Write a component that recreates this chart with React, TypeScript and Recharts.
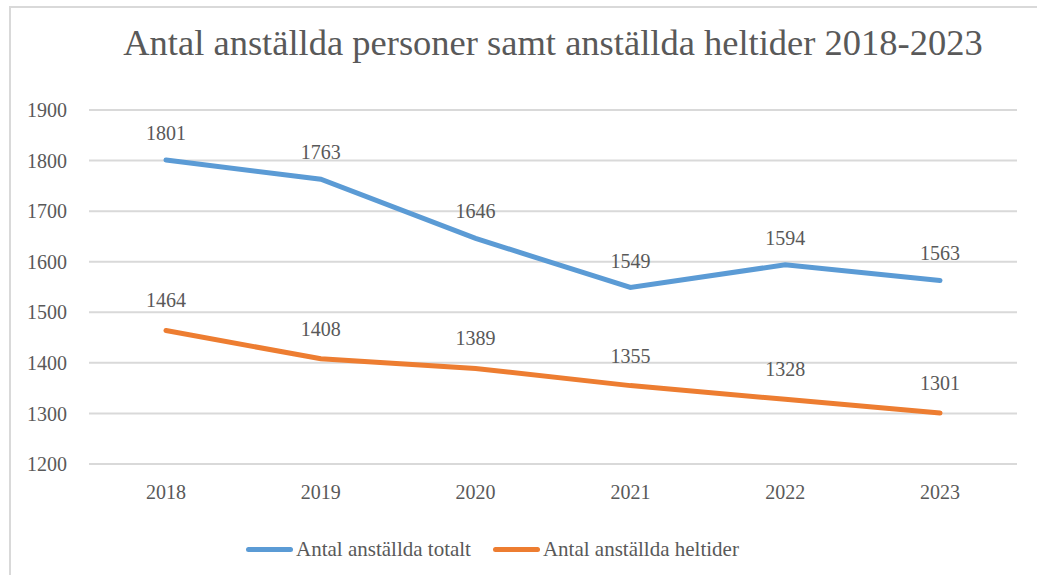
import React from "react";
import { LineChart, Line, XAxis, YAxis, CartesianGrid, Legend, LabelList } from "recharts";

const years = ["2018", "2019", "2020", "2021", "2022", "2023"];
const totalt = [1801, 1763, 1646, 1549, 1594, 1563];
const heltider = [1464, 1408, 1389, 1355, 1328, 1301];
const yTicks = [1200, 1300, 1400, 1500, 1600, 1700, 1800, 1900];

const data = years.map((y, i) => ({ year: y, totalt: totalt[i], heltider: heltider[i] }));

const FONT = "Liberation Serif";
const TXT = "#595959";
const BLUE = "#5B9BD5";
const ORANGE = "#ED7D31";

const txtStyle: React.CSSProperties = { fontFamily: FONT, fontSize: 21, color: TXT };

const LegendContent = () => (
  <div style={{ height: 71, position: "relative" }}>
    <div style={{ position: "absolute", top: 33, left: 246, display: "flex", alignItems: "center", whiteSpace: "nowrap" }}>
      <span style={{ display: "inline-block", width: 47, height: 5, borderRadius: 3, background: BLUE, marginRight: 3 }} />
      <span style={txtStyle}>Antal anställda totalt</span>
      <span style={{ display: "inline-block", width: 47, height: 5, borderRadius: 3, background: ORANGE, marginLeft: 22, marginRight: 3 }} />
      <span style={txtStyle}>Antal anställda heltider</span>
    </div>
  </div>
);

export default function App() {
  return (
    <div style={{ position: "fixed", left: 0, top: 0, width: 1037, height: 575, overflow: "hidden", background: "#fff" }}>
      <div style={{ position: "absolute", left: 9, top: 6, width: 1200, height: 700, border: "2px solid #d9d9d9", boxSizing: "border-box" }} />
      <div style={{ position: "absolute", left: 89, width: 928, top: 21, textAlign: "center", fontFamily: FONT, fontSize: 36.5, color: TXT, whiteSpace: "nowrap" }}>
        Antal anställda personer samt anställda heltider 2018-2023
      </div>
      <div style={{ position: "absolute", left: 0, top: 0 }}>
        <LineChart width={1037} height={575} data={data} margin={{ top: 110, right: 20, left: 0, bottom: 0 }}>
          <CartesianGrid vertical={false} stroke="#d9d9d9" strokeWidth={2} />
          <XAxis
            dataKey="year"
            axisLine={false}
            tickLine={false}
            tickSize={0}
            tickMargin={21}
            height={40}
            padding={{ left: 77, right: 77 }}
            tick={{ fontFamily: FONT, fontSize: 20, fill: TXT }}
          />
          <YAxis
            domain={[1200, 1900]}
            ticks={yTicks}
            width={89}
            axisLine={false}
            tickLine={false}
            tickSize={0}
            tickMargin={22}
            tick={{ fontFamily: FONT, fontSize: 20, fill: TXT }}
          />
          <Legend verticalAlign="bottom" content={<LegendContent />} height={71} />
          <Line dataKey="totalt" stroke={BLUE} strokeWidth={5} dot={false} isAnimationActive={false} strokeLinecap="round">
            <LabelList dataKey="totalt" position="top" offset={20} style={{ fontFamily: FONT, fontSize: 20, fill: TXT }} />
          </Line>
          <Line dataKey="heltider" stroke={ORANGE} strokeWidth={5} dot={false} isAnimationActive={false} strokeLinecap="round">
            <LabelList dataKey="heltider" position="top" offset={23} style={{ fontFamily: FONT, fontSize: 20, fill: TXT }} />
          </Line>
        </LineChart>
      </div>
    </div>
  );
}
